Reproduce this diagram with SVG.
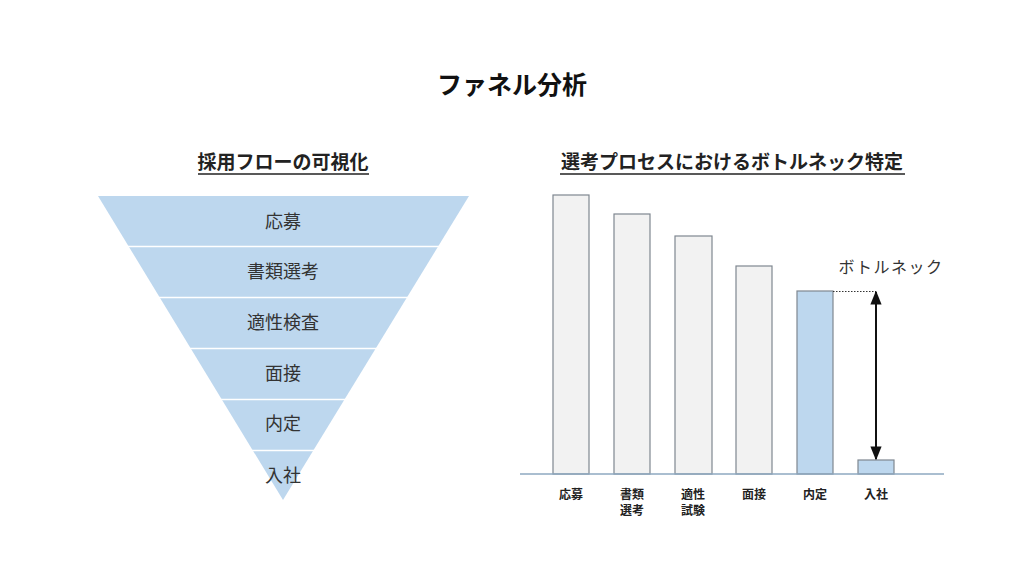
<svg xmlns="http://www.w3.org/2000/svg" width="1024" height="576" viewBox="0 0 1024 576">
<defs>
<style>
text{font-family:"Noto Sans CJK JP","Noto Sans",sans-serif;}
.title{font-size:25px;font-weight:bold;fill:#111;text-anchor:middle;}
.sub{font-size:19px;font-weight:bold;fill:#222;text-anchor:middle;}
.fl{font-size:18px;fill:#333;text-anchor:middle;}
.ax{font-size:12px;font-weight:bold;fill:#222;text-anchor:middle;}
.bar{fill:#F2F2F2;stroke:#7F8790;stroke-width:1.2;}
.barb{fill:#BDD7EE;stroke:#7F8790;stroke-width:1.2;}
.sep{stroke:#FFFFFF;stroke-width:1.5;}
.ul{stroke:#222;stroke-width:1.5;}
</style>
<marker id="ah" viewBox="0 0 10 10" refX="9" refY="5" markerWidth="7" markerHeight="7" orient="auto-start-reverse">
<path d="M0,1 L10,5 L0,9 z" fill="#111"/>
</marker>
</defs>
<rect width="1024" height="576" fill="#FFFFFF"/>
<text class="title" x="512" y="94">ファネル分析</text>
<text class="sub" x="283" y="169">採用フローの可視化</text>
<line class="ul" x1="198" y1="174" x2="369" y2="174"/>
<text class="sub" x="732" y="169">選考プロセスにおけるボトルネック特定</text>
<line class="ul" x1="560" y1="174" x2="905" y2="174"/>
<g id="funnel">
<polygon points="98,196 469,196 283,500" fill="#BDD7EE"/>
<line class="sep" x1="100" y1="246.5" x2="470" y2="246.5"/>
<line class="sep" x1="100" y1="297.5" x2="470" y2="297.5"/>
<line class="sep" x1="100" y1="348.5" x2="470" y2="348.5"/>
<line class="sep" x1="100" y1="399.5" x2="470" y2="399.5"/>
<line class="sep" x1="100" y1="450.5" x2="470" y2="450.5"/>
<g id="f1"><text class="fl" x="283" y="228">応募</text></g>
<g id="f2"><text class="fl" x="283" y="278">書類選考</text></g>
<g id="f3"><text class="fl" x="283" y="329">適性検査</text></g>
<g id="f4"><text class="fl" x="283" y="380">面接</text></g>
<g id="f5"><text class="fl" x="283" y="430">内定</text></g>
<g id="f6"><text class="fl" x="283" y="482">入社</text></g>
</g>
<g id="chart">
<g id="b1"><rect class="bar" x="553" y="195" width="36" height="279"/><text class="ax" x="571" y="499">応募</text></g>
<g id="b2"><rect class="bar" x="614" y="214" width="36" height="260"/><text class="ax" x="632" y="499">書類</text><text class="ax" x="632" y="515">選考</text></g>
<g id="b3"><rect class="bar" x="675" y="236" width="37" height="238"/><text class="ax" x="693" y="499">適性</text><text class="ax" x="693" y="515">試験</text></g>
<g id="b4"><rect class="bar" x="736" y="266" width="36" height="208"/><text class="ax" x="754" y="499">面接</text></g>
<g id="b5"><rect class="barb" x="797" y="291" width="36" height="183"/><text class="ax" x="815" y="499">内定</text></g>
<g id="b6"><rect class="barb" x="858" y="460" width="36" height="14"/><text class="ax" x="876" y="499">入社</text></g>
<line x1="520" y1="474" x2="944" y2="474" stroke="#8EA9C1" stroke-width="1.5"/>
<g id="bn"><text x="891" y="273" font-size="16" fill="#333" text-anchor="middle" letter-spacing="1.5">ボトルネック</text></g>
</g>
<g id="connectors">
<line x1="833" y1="291.5" x2="876" y2="291.5" stroke="#333" stroke-width="1" stroke-dasharray="1.5,1.5"/>
<line x1="876" y1="292" x2="876" y2="459" stroke="#111" stroke-width="2" marker-start="url(#ah)" marker-end="url(#ah)"/>
</g>
</svg>
